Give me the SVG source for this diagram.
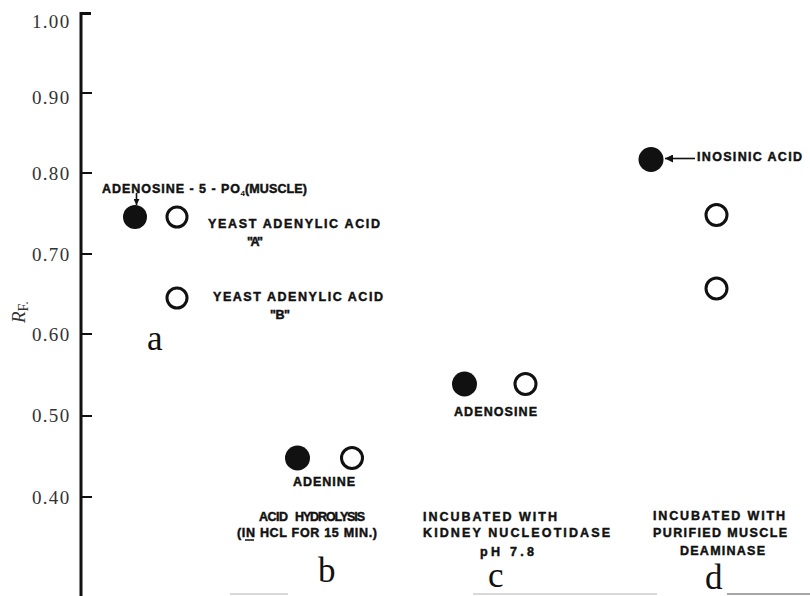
<svg xmlns="http://www.w3.org/2000/svg" width="810" height="596" viewBox="0 0 810 596">
<defs>
<style>
.lbl{font-family:"Liberation Sans",Arial,sans-serif;font-weight:bold;font-size:12.5px;fill:#111;stroke:#111;stroke-width:0.45}
.sub{font-family:"Liberation Sans",Arial,sans-serif;font-weight:bold;font-size:8px;fill:#111}
.tk{font-family:"Liberation Serif","Times New Roman",serif;font-size:19px;fill:#333}
.big{font-family:"Liberation Serif","Times New Roman",serif;font-size:35px;fill:#111}
.dot{fill:#111}
.ring{fill:none;stroke:#111;stroke-width:3}
.axis{stroke:#111;fill:none}
.conn{stroke:#111;stroke-width:1.6;fill:none}
</style>
<marker id="ah" viewBox="0 0 10 10" refX="10" refY="5" markerWidth="6" markerHeight="6" orient="auto" markerUnits="userSpaceOnUse">
<path d="M0,0 L10,5 L0,10 z" fill="#111"/>
</marker>
<marker id="ah2" viewBox="0 0 10 10" refX="10" refY="5" markerWidth="10" markerHeight="8" orient="auto" markerUnits="userSpaceOnUse">
<path d="M0,0 L10,5 L0,10 z" fill="#111"/>
</marker>
</defs>
<rect width="810" height="596" fill="#fff"/>

<g id="axis">
<path class="axis" stroke-width="3" d="M81,12 V596 M80,13.5 H91"/>
<path class="axis" stroke-width="2" d="M81,93 H92 M81,173 H92 M81,254 H92 M81,334 H92 M81,416 H92 M81,497 H92"/>
<text class="tk" x="32" y="28" letter-spacing="1.3">1.00</text>
<text class="tk" x="32" y="104" letter-spacing="1.3">0.90</text>
<text class="tk" x="32" y="180" letter-spacing="1.3">0.80</text>
<text class="tk" x="32" y="261" letter-spacing="1.3">0.70</text>
<text class="tk" x="32" y="341" letter-spacing="1.3">0.60</text>
<text class="tk" x="32" y="422" letter-spacing="1.3">0.50</text>
<text class="tk" x="32" y="504" letter-spacing="1.3">0.40</text>
<text class="tk" font-size="21" transform="translate(25,323) rotate(-90)"><tspan font-style="italic">R</tspan><tspan font-size="14" dy="3">F.</tspan></text>
</g>

<g id="baseline-marks" stroke-width="1.5">
<path d="M230,594 H288" stroke="#ccc"/>
<path d="M473,594 H657" stroke="#ccc"/>
<path d="M727,594 H810" stroke="#888"/>
</g>

<g id="group-a">
<circle class="dot" cx="135" cy="217" r="12"/>
<circle class="ring" cx="177" cy="217" r="10"/>
<circle class="ring" cx="177" cy="298" r="10"/>
<text class="lbl" x="102" y="193" textLength="138" lengthAdjust="spacing">ADENOSINE - 5 - PO</text>
<text class="sub" x="240.5" y="196">4</text>
<text class="lbl" x="245" y="193" textLength="62" lengthAdjust="spacing">(MUSCLE)</text>
<text class="lbl" x="208" y="228" textLength="172" lengthAdjust="spacing">YEAST ADENYLIC ACID</text>
<text class="lbl" x="247" y="246" textLength="16" lengthAdjust="spacing">"A"</text>
<text class="lbl" x="213" y="301" textLength="170" lengthAdjust="spacing">YEAST ADENYLIC ACID</text>
<text class="lbl" x="270" y="319" textLength="20" lengthAdjust="spacing">"B"</text>
<text class="big" x="147" y="350">a</text>
</g>

<g id="group-b">
<circle class="dot" cx="297.5" cy="458" r="12.5"/>
<circle class="ring" cx="352" cy="458" r="10.5"/>
<text class="lbl" x="293" y="486" textLength="62" lengthAdjust="spacing">ADENINE</text>
<text class="lbl" x="259" y="521" font-size="11.5" textLength="29" lengthAdjust="spacing">ACID</text>
<text class="lbl" x="295" y="521" font-size="11.5" textLength="70" lengthAdjust="spacing">HYDROLYSIS</text>
<text class="lbl" x="237" y="537" textLength="140" lengthAdjust="spacing">(IN HCL FOR 15 MIN.)</text>
<path d="M245,540 H254" stroke="#111" stroke-width="1.5"/>
<text class="big" x="318" y="582">b</text>
</g>

<g id="group-c">
<circle class="dot" cx="464.5" cy="384" r="12.5"/>
<circle class="ring" cx="525.5" cy="384" r="10.5"/>
<text class="lbl" x="454" y="416" textLength="83" lengthAdjust="spacing">ADENOSINE</text>
<text class="lbl" x="423" y="521" textLength="134" lengthAdjust="spacing">INCUBATED WITH</text>
<text class="lbl" x="423" y="537" textLength="187" lengthAdjust="spacing">KIDNEY NUCLEOTIDASE</text>
<text class="lbl" x="480" y="556" textLength="54" lengthAdjust="spacing">pH 7.8</text>
<text class="big" x="488" y="587">c</text>
</g>

<g id="group-d">
<circle class="dot" cx="651" cy="159.5" r="12.5"/>
<circle class="ring" cx="716.5" cy="215" r="10.5"/>
<circle class="ring" cx="716.5" cy="288.5" r="10.5"/>
<text class="lbl" x="697" y="161" textLength="105" lengthAdjust="spacing">INOSINIC ACID</text>
<text class="lbl" x="653" y="520" textLength="132" lengthAdjust="spacing">INCUBATED WITH</text>
<text class="lbl" x="653" y="537" textLength="134" lengthAdjust="spacing">PURIFIED MUSCLE</text>
<text class="lbl" x="680" y="555" textLength="85" lengthAdjust="spacing">DEAMINASE</text>
<text class="big" x="705" y="589">d</text>
</g>

<g id="connectors">
<path class="conn" d="M136.5,193 V205" marker-end="url(#ah)"/>
<path class="conn" d="M695,158.5 H665" stroke-width="2" marker-end="url(#ah2)"/>
</g>
</svg>
